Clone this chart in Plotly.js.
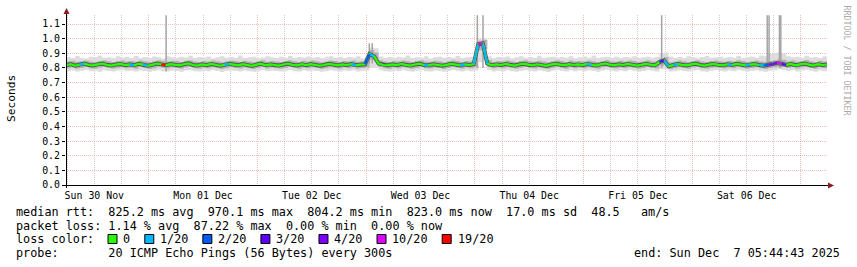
<!DOCTYPE html>
<html><head><meta charset="utf-8">
<script src="https://cdn.plot.ly/plotly-3.0.1.min.js"></script>
<style>html,body{margin:0;padding:0;background:#fff;}#chart{width:857px;height:267px;}</style>
</head><body><div id="chart"></div>
<script>
// ---------- data ----------
const firstSample = '2025-11-30T05:45:00Z';   // hourly samples
const rangeStart = '2025-11-30 05:44:43';
const rangeEnd = '2025-12-07 05:44:43';

const medianRtt = [
 0.818,0.826,0.815,0.822,0.829,0.82,0.817,0.824,0.83,0.821,0.816,0.823,
 0.827,0.819,0.824,0.818,0.828,0.822,0.815,0.821,0.83,0.824,0.818,0.826,
 0.823,0.817,0.825,0.831,0.82,0.816,0.824,0.819,0.827,0.822,0.815,0.821,
 0.828,0.823,0.818,0.826,0.82,0.814,0.822,0.829,0.818,0.824,0.82,0.816,
 0.823,0.83,0.821,0.817,0.825,0.819,0.826,0.822,0.815,0.82,0.828,0.823,
 0.817,0.824,0.82,0.826,0.818,0.822,0.825,0.895,0.88,0.83,0.82,0.817,
 0.824,0.819,0.827,0.821,0.816,0.823,0.829,0.82,0.818,0.825,0.822,0.815,
 0.821,0.828,0.823,0.817,0.824,0.82,0.826,0.962,0.968,0.83,0.818,0.824,
 0.82,0.827,0.821,0.816,0.823,0.829,0.822,0.818,0.825,0.82,0.814,0.822,
 0.828,0.823,0.817,0.826,0.82,0.824,0.819,0.827,0.821,0.816,0.824,0.83,
 0.822,0.818,0.825,0.82,0.827,0.823,0.816,0.821,0.828,0.822,0.818,0.84,
 0.852,0.812,0.82,0.826,0.821,0.817,0.824,0.829,0.82,0.816,0.823,0.827,
 0.821,0.818,0.825,0.82,0.828,0.823,0.817,0.822,0.826,0.82,0.815,0.822,
 0.826,0.834,0.828,0.821,0.827,0.818,0.824,0.83,0.822,0.816,0.825,0.82,0.823
];
const lossPings = [
 0,0,0,0,1,0,0,0,0,0,0,0,
 0,0,0,1,0,0,1,0,0,0,19,0,
 0,0,0,0,0,0,0,0,0,0,0,0,
 1,0,0,0,0,0,0,0,0,0,0,0,
 0,0,0,0,0,0,0,0,0,0,0,0,
 0,0,0,0,1,0,0,2,1,0,0,0,
 0,0,0,0,0,0,0,0,1,0,0,0,
 0,0,0,0,1,0,0,1,10,1,0,0,
 0,0,0,0,0,0,0,0,0,0,0,0,
 0,0,0,0,0,0,0,0,1,0,0,0,
 0,0,0,0,0,0,0,0,0,0,0,0,
 3,1,0,1,0,0,0,0,0,0,0,0,
 0,0,0,1,0,0,0,1,0,0,1,2,
 4,4,10,3,0,0,0,0,0,0,0,0,0
];
const smokeOuterHi = [
 0.874,0.868,0.881,0.87,0.865,0.877,0.872,0.884,0.869,0.873,0.866,0.879,
 0.871,0.876,0.867,0.882,0.87,0.874,0.868,0.878,0.872,0.865,0.88,0.873,
 0.869,0.876,0.871,0.883,0.867,0.874,0.87,0.878,0.866,0.872,0.88,0.869,
 0.875,0.87,0.885,0.868,0.873,0.877,0.866,0.871,0.879,0.872,0.868,0.876,
 0.87,0.882,0.867,0.874,0.871,0.878,0.869,0.875,0.866,0.873,0.88,0.87,
 0.877,0.868,0.874,0.871,0.879,0.866,0.872,0.94,0.935,0.878,0.87,0.874,
 0.868,0.876,0.871,0.884,0.867,0.873,0.87,0.879,0.865,0.872,0.877,0.869,
 0.874,0.87,0.881,0.867,0.873,0.876,0.87,1.0,1.0,0.88,0.868,0.875,
 0.871,0.878,0.866,0.873,0.88,0.869,0.875,0.87,0.883,0.867,0.872,0.877,
 0.869,0.874,0.87,0.879,0.866,0.873,0.878,0.87,0.884,0.868,0.872,0.876,
 0.87,0.877,0.867,0.874,0.871,0.88,0.868,0.873,0.877,0.87,0.875,0.9,
 0.905,0.878,0.87,0.874,0.868,0.879,0.872,0.866,0.875,0.881,0.87,0.873,
 0.877,0.869,0.874,0.87,0.882,0.867,0.873,0.878,0.871,0.884,0.88,0.895,
 0.9,0.905,0.898,0.88,0.872,0.876,0.869,0.883,0.871,0.874,0.868,0.879,0.872
];
const smokeOuterLo = [
 0.778,0.783,0.775,0.781,0.786,0.777,0.78,0.774,0.784,0.779,0.776,0.782,
 0.785,0.778,0.781,0.775,0.783,0.779,0.773,0.78,0.786,0.777,0.775,0.781,
 0.779,0.774,0.782,0.786,0.777,0.775,0.781,0.778,0.784,0.779,0.772,0.78,
 0.783,0.779,0.776,0.782,0.778,0.774,0.78,0.785,0.777,0.781,0.779,0.775,
 0.781,0.786,0.778,0.775,0.782,0.777,0.783,0.779,0.773,0.778,0.784,0.781,
 0.776,0.782,0.779,0.784,0.775,0.78,0.782,0.8,0.8,0.784,0.778,0.775,
 0.781,0.777,0.784,0.779,0.774,0.781,0.786,0.778,0.776,0.783,0.78,0.774,
 0.779,0.785,0.781,0.775,0.782,0.778,0.783,0.84,0.85,0.786,0.776,0.781,
 0.778,0.784,0.779,0.774,0.781,0.786,0.78,0.776,0.783,0.778,0.772,0.78,
 0.785,0.781,0.775,0.783,0.778,0.782,0.777,0.784,0.779,0.774,0.782,0.786,
 0.78,0.776,0.783,0.778,0.785,0.781,0.774,0.779,0.785,0.78,0.776,0.79,
 0.792,0.775,0.778,0.784,0.779,0.775,0.782,0.786,0.778,0.774,0.781,0.785,
 0.779,0.776,0.783,0.778,0.786,0.781,0.775,0.78,0.784,0.778,0.774,0.78,
 0.784,0.79,0.786,0.779,0.785,0.776,0.782,0.787,0.78,0.774,0.783,0.778,0.781
];
const smokeInnerHi = [
 0.845,0.849,0.842,0.846,0.851,0.844,0.841,0.848,0.852,0.845,0.84,0.847,
 0.85,0.843,0.848,0.842,0.851,0.846,0.84,0.845,0.852,0.848,0.843,0.849,
 0.847,0.841,0.849,0.853,0.844,0.84,0.848,0.843,0.85,0.846,0.839,0.845,
 0.851,0.847,0.842,0.849,0.844,0.839,0.846,0.852,0.842,0.848,0.844,0.84,
 0.847,0.853,0.845,0.841,0.849,0.843,0.85,0.846,0.839,0.844,0.851,0.847,
 0.841,0.848,0.844,0.85,0.842,0.846,0.849,0.92,0.905,0.853,0.844,0.841,
 0.848,0.843,0.851,0.845,0.84,0.847,0.853,0.844,0.842,0.849,0.846,0.839,
 0.845,0.852,0.847,0.841,0.848,0.844,0.85,0.985,0.99,0.854,0.842,0.848,
 0.844,0.851,0.845,0.84,0.847,0.853,0.846,0.842,0.849,0.844,0.838,0.846,
 0.852,0.847,0.841,0.85,0.844,0.848,0.843,0.851,0.845,0.84,0.848,0.854,
 0.846,0.842,0.849,0.844,0.851,0.847,0.84,0.845,0.852,0.846,0.842,0.865,
 0.875,0.838,0.844,0.85,0.845,0.841,0.848,0.853,0.844,0.84,0.847,0.851,
 0.845,0.842,0.849,0.844,0.852,0.847,0.841,0.846,0.85,0.844,0.84,0.848,
 0.853,0.86,0.855,0.845,0.851,0.842,0.848,0.854,0.846,0.84,0.849,0.844,0.847
];
const smokeInnerLo = [
 0.798,0.804,0.795,0.8,0.806,0.797,0.795,0.801,0.807,0.799,0.794,0.8,
 0.805,0.797,0.801,0.795,0.806,0.8,0.793,0.798,0.807,0.801,0.796,0.803,
 0.8,0.795,0.803,0.808,0.798,0.794,0.801,0.797,0.804,0.8,0.793,0.798,
 0.805,0.8,0.796,0.803,0.798,0.792,0.8,0.806,0.796,0.802,0.798,0.794,
 0.8,0.807,0.799,0.795,0.803,0.797,0.804,0.8,0.793,0.797,0.805,0.801,
 0.795,0.802,0.798,0.804,0.796,0.8,0.803,0.855,0.845,0.806,0.798,0.795,
 0.802,0.797,0.805,0.799,0.794,0.8,0.807,0.798,0.796,0.803,0.8,0.793,
 0.799,0.806,0.801,0.795,0.802,0.798,0.804,0.92,0.93,0.807,0.796,0.802,
 0.798,0.805,0.799,0.794,0.801,0.807,0.8,0.796,0.803,0.798,0.792,0.8,
 0.806,0.801,0.795,0.804,0.798,0.802,0.797,0.805,0.799,0.794,0.802,0.808,
 0.8,0.796,0.803,0.798,0.805,0.801,0.794,0.799,0.806,0.8,0.796,0.815,
 0.825,0.79,0.798,0.804,0.799,0.795,0.802,0.807,0.798,0.794,0.801,0.805,
 0.799,0.796,0.803,0.798,0.806,0.801,0.795,0.8,0.804,0.798,0.793,0.8,
 0.805,0.812,0.806,0.799,0.805,0.796,0.802,0.808,0.8,0.794,0.803,0.798,0.801
];
// single-ping outliers (thin grey smoke spikes)
const spikeTimes = ['2025-12-01 03:51','2025-12-03 00:42','2025-12-03 01:21','2025-12-04 00:33','2025-12-04 01:48',
                    '2025-12-05 17:15','2025-12-06 16:33','2025-12-06 16:57','2025-12-06 19:15','2025-12-06 19:33'];
const spikeLow  = [0.775,0.83,0.83,0.80,0.80,0.80,0.80,0.80,0.80,0.80];
const spikeHigh = [1.16,0.968,0.968,1.16,1.16,1.16,1.16,1.16,1.16,1.16];

const lossThresholds = [0,1,2,3,4,10,19];
const lossLabels = ['0','1/20','2/20','3/20','4/20','10/20','19/20'];
const lossColors = ['#26ff00','#00b8ff','#0059ff','#5e00ff','#7e00ff','#dd00ff','#ff0000'];

const legendLines = [
 'median rtt:  825.2 ms avg  970.1 ms max  804.2 ms min  823.0 ms now  17.0 ms sd  48.5   am/s',
 'packet loss: 1.14 % avg  87.22 % max  0.00 % min  0.00 % now',
 'loss color:',
 'probe:       20 ICMP Echo Pings (56 Bytes) every 300s'
];
const endText = 'end: Sun Dec  7 05:44:43 2025';
const yTitle = 'Seconds';
const creditText = 'RRDTOOL / TOBI OETIKER';

// ---------- build ----------
const pad = n => String(n).padStart(2,'0');
function stamp(i){
  const d = new Date(Date.parse(firstSample) + i*3600000);
  return d.getUTCFullYear()+'-'+pad(d.getUTCMonth()+1)+'-'+pad(d.getUTCDate())+' '+pad(d.getUTCHours())+':'+pad(d.getUTCMinutes());
}
const times = medianRtt.map((_,i)=>stamp(i));
function lossIndex(n){ let k=0; lossThresholds.forEach((t,j)=>{ if(n>=t) k=j; }); return k; }

const base = {mode:'lines', hoverinfo:'skip', showlegend:false};
const traces = [];
traces.push(Object.assign({}, base, {x:times, y:smokeOuterLo, line:{width:0, shape:'hv'}}));
traces.push(Object.assign({}, base, {x:times, y:smokeOuterHi, line:{width:0, shape:'hv'}, fill:'tonexty', fillcolor:'#dddddd'}));
traces.push(Object.assign({}, base, {x:times, y:smokeInnerLo, line:{width:0, shape:'hv'}}));
traces.push(Object.assign({}, base, {x:times, y:smokeInnerHi, line:{width:0, shape:'hv'}, fill:'tonexty', fillcolor:'#b2b2b2'}));
const sx=[], sy=[];
spikeTimes.forEach((t,i)=>{ sx.push(t,t,null); sy.push(spikeLow[i],spikeHigh[i],null); });
traces.push(Object.assign({}, base, {x:sx, y:sy, line:{width:1.5, color:'#a4a4a4'}}));
traces.push(Object.assign({}, base, {x:times, y:medianRtt, line:{width:4, color:'#555555'}}));
traces.push(Object.assign({}, base, {x:times, y:medianRtt, line:{width:2.2, color:lossColors[0]}}));
const segs = lossColors.map(()=>({x:[],y:[]}));
for(let i=1;i<times.length;i++){
  const k = lossIndex(lossPings[i]); if(k===0) continue;
  segs[k].x.push(times[i-1],times[i],null); segs[k].y.push(medianRtt[i-1],medianRtt[i],null);
}
segs.forEach((s,k)=>{ if(k>0 && s.x.length) traces.push(Object.assign({}, base, {x:s.x, y:s.y, line:{width:2.2, color:lossColors[k]}})); });

// pixel helpers (plot origin: left 66, bottom 185)
const OX = 66, OY = 185;
const MONO = 'DejaVu Sans Mono';
const nb = s => s.replace(/ /g,'\u00a0');
function ann(text, px, py, o){
  return Object.assign({text:nb(text), xref:'paper', yref:'paper', x:0, y:0, xshift:px-OX, yshift:OY-py,
    xanchor:'left', yanchor:'middle', showarrow:false, borderpad:0, borderwidth:0,
    font:{family:MONO, size:11.8, color:'#000'}}, o||{});
}
const pxShape = (o) => Object.assign({xref:'paper', yref:'paper', xsizemode:'pixel', ysizemode:'pixel', xanchor:0, yanchor:0}, o);

const annotations = [];
const lineY = [211.5, 225.5, 239, 253];
legendLines.forEach((t,i)=>annotations.push(ann(t, 16, lineY[i])));
annotations.push(ann(endText, 840, 253, {xanchor:'right'}));
annotations.push(ann(yTitle, 11, 99, {xanchor:'center', textangle:-90, font:{family:MONO, size:11.2, color:'#000'}}));
annotations.push(ann(creditText, 846.5, 60, {xanchor:'center', textangle:90, font:{family:MONO, size:8.3, color:'#aaaaaa'}}));

const shapes = [];
const charW = 7.09;
let bx = 108;
lossLabels.forEach((lab,k)=>{
  shapes.push(pxShape({type:'rect', x0:bx-OX, x1:bx-OX+9, y0:OY-243.5, y1:OY-234.5, fillcolor:lossColors[k], line:{color:'#000', width:1}}));
  annotations.push(ann(lab, bx+15.4, 239));
  bx = bx + 15.4 + lab.length*charW + 14.3;
});
// axes with arrows
shapes.push(pxShape({type:'line', x0:-3, x1:764, y0:-0.5, y1:-0.5, line:{color:'#000', width:1}}));
shapes.push(pxShape({type:'line', x0:0.5, x1:0.5, y0:-3, y1:173, line:{color:'#000', width:1}}));
shapes.push(pxShape({type:'path', path:'M -2.5,171 L 3.5,171 L 0.5,177 Z', fillcolor:'#8b1c1c', line:{color:'#8b1c1c', width:0}}));
shapes.push(pxShape({type:'path', path:'M 762,2.5 L 768,-0.5 L 762,-3.5 Z', fillcolor:'#8b1c1c', line:{color:'#8b1c1c', width:0}}));

const redGrid = 'rgba(225,110,110,0.45)';
const layout = {
  width:857, height:267, margin:{l:66, r:30, t:15, b:82, pad:0},
  paper_bgcolor:'#fff', plot_bgcolor:'#fff', showlegend:false,
  font:{family:MONO, size:9.9, color:'#000'},
  xaxis:{type:'date', range:[rangeStart, rangeEnd], tick0:'2025-11-30', dtick:86400000,
    ticklabelmode:'period', tickformat:'%a %d %b', ticks:'', showline:false, zeroline:false,
    showgrid:true, gridcolor:redGrid, griddash:'1px,1px', gridwidth:1, ticklabelstandoff:3,
    minor:{tick0:'2025-11-30', dtick:21600000, showgrid:true, gridcolor:'rgba(150,150,150,0.45)', griddash:'1px,1px', gridwidth:1, ticks:''},
    tickfont:{family:MONO, size:9.9, color:'#000'}, automargin:false, fixedrange:true},
  yaxis:{range:[0,1.1615], tick0:0, dtick:0.1, tickformat:'.1f', ticks:'outside', ticklen:3, tickcolor:'#000',
    showline:false, zeroline:false, showgrid:true, gridcolor:redGrid, griddash:'1px,1px', gridwidth:1,
    tickfont:{family:MONO, size:9.9, color:'#000'}, automargin:false, fixedrange:true},
  shapes:shapes, annotations:annotations
};
Plotly.newPlot('chart', traces, layout, {staticPlot:true, displayModeBar:false});
</script></body></html>
